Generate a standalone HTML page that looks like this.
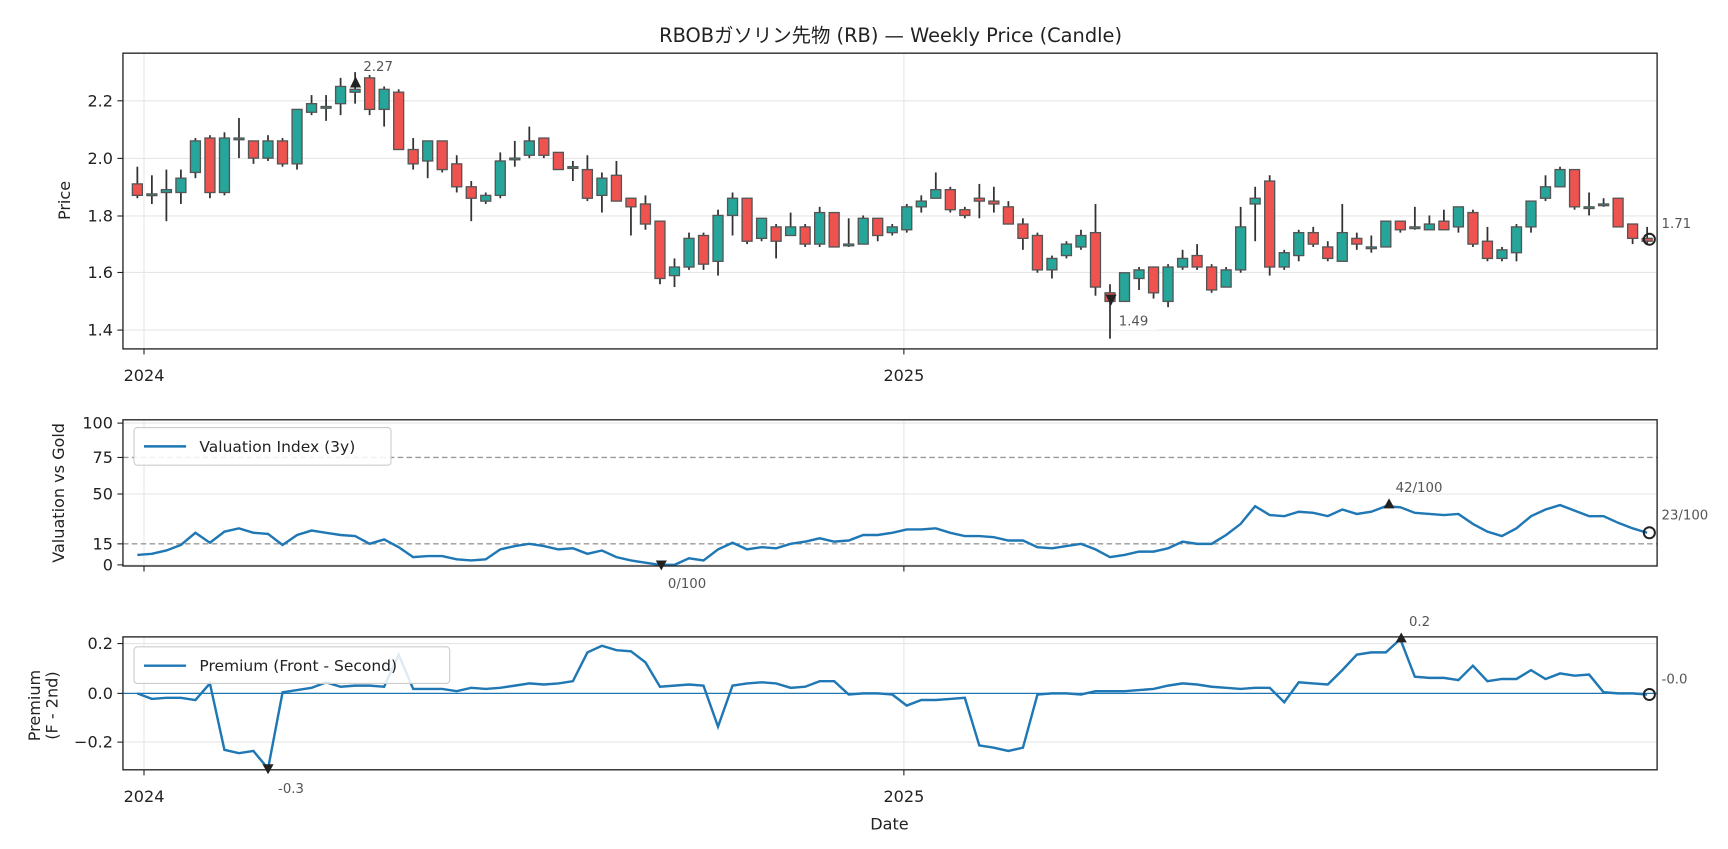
<!DOCTYPE html>
<html><head><meta charset="utf-8"><style>
html,body{margin:0;padding:0;background:#fff}
svg{display:block}
text{font-family:"DejaVu Sans","Noto Sans CJK JP",sans-serif;fill:#222}
</style></head><body>
<svg id="s" width="1728" height="849" viewBox="0 0 1560 766.5" preserveAspectRatio="none" xmlns="http://www.w3.org/2000/svg">
<rect width="1560" height="766.5" fill="#fff"/>
<g id="grid" stroke="#e6e6e6" stroke-width="1">
<line x1="111" x2="1496" y1="91" y2="91"/><line x1="111" x2="1496" y1="143" y2="143"/><line x1="111" x2="1496" y1="195" y2="195"/><line x1="111" x2="1496" y1="246" y2="246"/><line x1="111" x2="1496" y1="298" y2="298"/>
<line x1="130" x2="130" y1="48" y2="315"/><line x1="816" x2="816" y1="48" y2="315"/>
<line x1="111" x2="1496" y1="382" y2="382"/><line x1="111" x2="1496" y1="446" y2="446"/><line x1="111" x2="1496" y1="510" y2="510"/>
<line x1="130" x2="130" y1="379" y2="511"/><line x1="816" x2="816" y1="379" y2="511"/>
<line x1="111" x2="1496" y1="581" y2="581"/><line x1="111" x2="1496" y1="670" y2="670"/>
<line x1="130" x2="130" y1="575" y2="695"/><line x1="816" x2="816" y1="575" y2="695"/>
</g>
<g stroke="#999" stroke-width="1.2" stroke-dasharray="5,3">
<line x1="111" x2="1496" y1="413" y2="413"/><line x1="111" x2="1496" y1="491" y2="491"/>
</g>
<line x1="111" x2="1496" y1="626" y2="626" stroke="#1f77b4" stroke-width="1.2"/>
<g id="candles"></g>
<polyline id="val" fill="none" stroke="#1f77b4" stroke-width="2.2"/>
<polyline id="prem" fill="none" stroke="#1f77b4" stroke-width="2.2"/>
<path d="M316,79 L326,79 L321,69 Z" fill="#222"/>
<path d="M998,266 L1008,266 L1003,276 Z" fill="#222"/>
<circle cx="1489" cy="216" r="5" fill="none" stroke="#222" stroke-width="1.8"/>
<path d="M592,506 L602,506 L597,515 Z" fill="#222"/>
<path d="M1249,459 L1259,459 L1254,450 Z" fill="#222"/>
<circle cx="1489" cy="481" r="5" fill="none" stroke="#222" stroke-width="1.8"/>
<path d="M1260,580 L1270,580 L1265,571 Z" fill="#222"/>
<path d="M237,690 L247,690 L242,699 Z" fill="#222"/>
<circle cx="1489" cy="627" r="5" fill="none" stroke="#222" stroke-width="1.8"/>
<g font-size="12">
<rect x="326" y="51" width="32" height="16" fill="#fff"/>
<text x="328" y="64" style="fill:#555">2.27</text>
<rect x="1008" y="282" width="36" height="16" fill="#fff"/>
<text x="1010" y="294" style="fill:#555">1.49</text>
<text x="1500" y="206" style="fill:#555">1.71</text>
<text x="603" y="531" style="fill:#555">0/100</text>
<text x="1260" y="444" style="fill:#555">42/100</text>
<text x="1500" y="469" style="fill:#555">23/100</text>
<text x="1272" y="565" style="fill:#555">0.2</text>
<text x="251" y="716" style="fill:#555">-0.3</text>
<text x="1500" y="617" style="fill:#555">-0.0</text>
</g>
<g fill="none" stroke="#222" stroke-width="1.2">
<rect x="111" y="48" width="1385" height="267"/>
<rect x="111" y="379" width="1385" height="132"/>
<rect x="111" y="575" width="1385" height="120"/>
</g>
<g stroke="#222" stroke-width="1">
<line x1="130" x2="130" y1="315" y2="320"/><line x1="816" x2="816" y1="315" y2="320"/>
<line x1="130" x2="130" y1="511" y2="516"/><line x1="816" x2="816" y1="511" y2="516"/>
<line x1="130" x2="130" y1="695" y2="700"/><line x1="816" x2="816" y1="695" y2="700"/>
<line x1="106" x2="111" y1="91" y2="91"/><line x1="106" x2="111" y1="143" y2="143"/><line x1="106" x2="111" y1="195" y2="195"/><line x1="106" x2="111" y1="246" y2="246"/><line x1="106" x2="111" y1="298" y2="298"/>
<line x1="106" x2="111" y1="382" y2="382"/><line x1="106" x2="111" y1="413" y2="413"/><line x1="106" x2="111" y1="446" y2="446"/><line x1="106" x2="111" y1="491" y2="491"/><line x1="106" x2="111" y1="510" y2="510"/>
<line x1="106" x2="111" y1="581" y2="581"/><line x1="106" x2="111" y1="626" y2="626"/><line x1="106" x2="111" y1="670" y2="670"/>
</g>
<g font-size="14.5" text-anchor="end">
<text x="102" y="96">2.2</text><text x="102" y="148">2.0</text><text x="102" y="200">1.8</text><text x="102" y="251">1.6</text><text x="102" y="303">1.4</text>
<text x="102" y="387">100</text><text x="102" y="418">75</text><text x="102" y="451">50</text><text x="102" y="496">15</text><text x="102" y="515">0</text>
<text x="102" y="586">0.2</text><text x="102" y="631">0.0</text><text x="102" y="675">−0.2</text>
</g>
<g font-size="14.5" text-anchor="middle">
<text x="130" y="344">2024</text><text x="816" y="344">2025</text>
<text x="130" y="724">2024</text><text x="816" y="724">2025</text>
<text x="803" y="749">Date</text>
<text x="804" y="38" font-size="17.5">RBOBガソリン先物 (RB) — Weekly Price (Candle)</text>
<text transform="translate(63,181) rotate(-90)">Price</text>
<text transform="translate(58,445) rotate(-90)">Valuation vs Gold</text>
<text transform="translate(36,637) rotate(-90)">Premium</text>
<text transform="translate(52,637) rotate(-90)">(F - 2nd)</text>
</g>
<rect x="121" y="386" width="232" height="34" rx="3" fill="#fff" fill-opacity="0.85" stroke="#ccc"/>
<line x1="130" x2="168" y1="403" y2="403" stroke="#1f77b4" stroke-width="2.2"/>
<text x="180" y="408" font-size="14">Valuation Index (3y)</text>
<rect x="121" y="584" width="285" height="33" rx="3" fill="#fff" fill-opacity="0.85" stroke="#ccc"/>
<line x1="130" x2="168" y1="601" y2="601" stroke="#1f77b4" stroke-width="2.2"/>
<text x="180" y="606" font-size="14">Premium (Front - Second)</text>
</svg>
<script>
var C=[[1.91,1.97,1.86,1.87],[1.875,1.94,1.84,1.875],[1.88,1.96,1.78,1.89],[1.88,1.96,1.84,1.93],[1.95,2.07,1.93,2.06],[2.07,2.08,1.86,1.88],[1.88,2.09,1.87,2.07],[2.07,2.14,2.00,2.07],[2.06,2.06,1.98,2.00],[2.00,2.08,1.99,2.06],[2.06,2.07,1.97,1.98],[1.98,2.17,1.96,2.17],[2.16,2.22,2.15,2.19],[2.18,2.22,2.13,2.18],[2.19,2.28,2.15,2.25],[2.23,2.30,2.19,2.24],[2.28,2.29,2.15,2.17],[2.17,2.25,2.11,2.24],[2.23,2.24,2.03,2.03],[2.03,2.07,1.96,1.98],[1.99,2.06,1.93,2.06],[2.06,2.06,1.95,1.96],[1.98,2.01,1.88,1.90],[1.90,1.92,1.78,1.86],[1.85,1.88,1.84,1.87],[1.87,2.02,1.86,1.99],[2.00,2.06,1.97,2.00],[2.01,2.11,2.00,2.06],[2.07,2.07,2.00,2.01],[2.02,2.02,1.96,1.96],[1.97,1.99,1.92,1.97],[1.96,2.01,1.85,1.86],[1.87,1.95,1.81,1.93],[1.94,1.99,1.85,1.85],[1.86,1.86,1.73,1.83],[1.84,1.87,1.75,1.77],[1.78,1.78,1.56,1.58],[1.59,1.65,1.55,1.62],[1.62,1.74,1.61,1.72],[1.73,1.74,1.61,1.63],[1.64,1.82,1.59,1.80],[1.80,1.88,1.73,1.86],[1.86,1.86,1.70,1.71],[1.72,1.79,1.71,1.79],[1.76,1.77,1.65,1.71],[1.73,1.81,1.73,1.76],[1.76,1.77,1.69,1.70],[1.70,1.83,1.69,1.81],[1.81,1.81,1.69,1.69],[1.70,1.79,1.69,1.70],[1.70,1.80,1.70,1.79],[1.79,1.79,1.71,1.73],[1.74,1.77,1.73,1.76],[1.75,1.84,1.74,1.83],[1.83,1.87,1.81,1.85],[1.86,1.95,1.86,1.89],[1.89,1.90,1.81,1.82],[1.82,1.83,1.79,1.80],[1.86,1.91,1.79,1.85],[1.85,1.90,1.81,1.84],[1.83,1.85,1.77,1.77],[1.77,1.79,1.68,1.72],[1.73,1.74,1.60,1.61],[1.61,1.66,1.58,1.65],[1.66,1.71,1.65,1.70],[1.69,1.75,1.68,1.73],[1.74,1.84,1.52,1.55],[1.53,1.56,1.37,1.50],[1.50,1.60,1.50,1.60],[1.58,1.62,1.54,1.61],[1.62,1.62,1.51,1.53],[1.50,1.63,1.48,1.62],[1.62,1.68,1.61,1.65],[1.66,1.70,1.61,1.62],[1.62,1.63,1.53,1.54],[1.55,1.62,1.55,1.61],[1.61,1.83,1.60,1.76],[1.84,1.90,1.71,1.86],[1.92,1.94,1.59,1.62],[1.62,1.68,1.61,1.67],[1.66,1.75,1.64,1.74],[1.74,1.76,1.69,1.70],[1.69,1.71,1.64,1.65],[1.64,1.84,1.64,1.74],[1.72,1.74,1.68,1.70],[1.69,1.73,1.67,1.69],[1.69,1.78,1.69,1.78],[1.78,1.78,1.74,1.75],[1.76,1.83,1.75,1.76],[1.75,1.80,1.75,1.77],[1.78,1.82,1.75,1.75],[1.76,1.83,1.74,1.83],[1.81,1.82,1.69,1.70],[1.71,1.76,1.64,1.65],[1.65,1.69,1.64,1.68],[1.67,1.77,1.64,1.76],[1.76,1.85,1.74,1.85],[1.86,1.94,1.85,1.90],[1.90,1.97,1.90,1.96],[1.96,1.96,1.82,1.83],[1.83,1.88,1.80,1.83],[1.84,1.86,1.83,1.84],[1.86,1.86,1.76,1.76],[1.77,1.77,1.70,1.72],[1.72,1.76,1.70,1.71]];
var V=[501,500,497,492,481,490,480,477,481,482,492,483,479,481,483,484,491,487,494,503,502,502,505,506,505,496,493,491,493,496,495,500,497,503,506,508,510,510,504,506,496,490,496,494,495,491,489,486,489,488,483,483,481,478,478,477,481,484,484,485,488,488,494,495,493,491,496,503,501,498,498,495,489,491,491,483,473,457,465,466,462,463,466,460,464,462,457,458,463,464,465,464,473,480,484,477,466,460,456,461,466,466,472,477,481];
var P=[626,631,630,630,632,617,677,680,678,694,625,623,621,616,620,619,619,620,591,622,622,622,624,621,622,621,619,617,618,617,615,589,583,587,588,598,620,619,618,619,656,619,617,616,617,621,620,615,615,627,626,626,627,637,632,632,631,630,673,675,678,675,627,626,626,627,624,624,624,623,622,619,617,618,620,621,622,621,621,634,616,617,618,605,591,589,589,577,611,612,612,614,601,615,613,613,605,613,608,610,609,625,626,626,627];
var g=document.getElementById("candles"),h="";
function Y(p){return 298-(p-1.4)*258.75}
function X(i){return 124+i*(1487-124)/(C.length-1)}
C.forEach(function(c,i){var x=X(i),o=c[0],hi=c[1],lo=c[2],cl=c[3];
h+='<line x1="'+x+'" x2="'+x+'" y1="'+Y(hi)+'" y2="'+Y(lo)+'" stroke="#333" stroke-width="1.6"/>';
var t=Y(Math.max(o,cl)),b=Y(Math.min(o,cl)),hh=Math.max(b-t,1.5);
h+='<rect x="'+(x-4.5)+'" y="'+t+'" width="9" height="'+hh+'" fill="'+(cl>=o?"#26a69a":"#ef5350")+'" stroke="#555" stroke-width="1.2"/>';});
g.innerHTML=h;
function pts(a){return a.map(function(y,i){return X(i).toFixed(1)+","+y}).join(" ")}
document.getElementById("val").setAttribute("points",pts(V));
document.getElementById("prem").setAttribute("points",pts(P));
</script>
</body></html>
